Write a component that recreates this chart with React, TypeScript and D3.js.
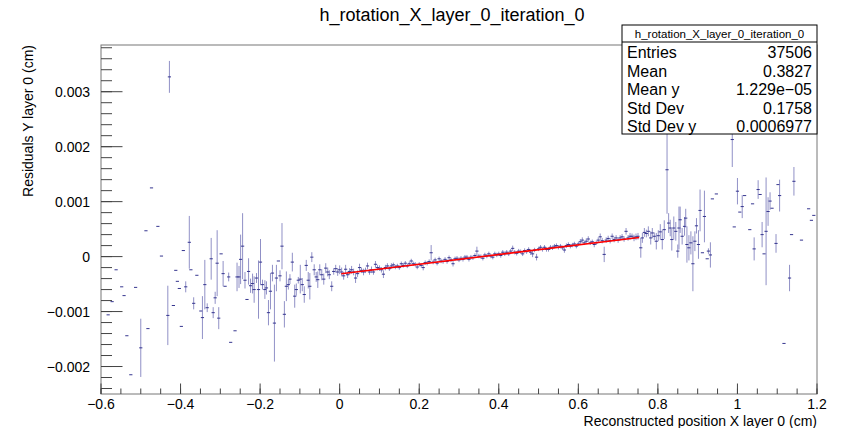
import React from "react";
import * as d3 from "d3";

// profile points: [x (cm), mean residual (1e-4 cm), error (1e-4 cm)]
const farLeft: [number, number, number][] = [
  [-0.582, -10.6, 0], [-0.572, -8.2, 0], [-0.562, -2.4, 0], [-0.548, -5.5, 0],
  [-0.542, -7.1, 0], [-0.535, -14.4, 0], [-0.525, -21.5, 0], [-0.513, -5.6, 0],
  [-0.5, -16.6, 5.3], [-0.487, 4.7, 0], [-0.482, -13.1, 0], [-0.473, 12.5, 0],
  [-0.457, 5.5, 0], [-0.448, 0.1, 0], [-0.432, -10.7, 5.4], [-0.428, 32.7, 2.9],
  [-0.418, -8.9, 0], [-0.412, -2.5, 0], [-0.408, -4.5, 0], [-0.403, -5.8, 0],
  [-0.398, -12.7, 0], [-0.393, 1.1, 0], [-0.387, -5.5, 1], [-0.378, 2.6, 4.8],
  [-0.374, -2.4, 0], [-0.367, -8.5, 1.1], [-0.359, -3.4, 0], [-0.349, -9.9, 0],
];

const leftBand: [number, number, number][] = [
  [-0.345, -11.1, 3.9], [-0.339, -5.1, 4.5], [-0.333, -9.3, 0.8], [-0.323, -0.4, 3.8],
  [-0.318, -10.2, 1], [-0.313, -7.5, 1.1], [-0.308, -1.2, 6], [-0.304, -11.2, 2],
  [-0.298, 0.5, 0], [-0.293, -3.1, 2.3], [-0.288, -5.4, 0], [-0.279, -3.7, 0.8],
  [-0.274, -15.6, 0], [-0.263, -13.5, 0], [-0.258, -3.7, 2.6], [-0.253, -3.7, 2],
  [-0.249, -0.5, 4.5], [-0.244, 1.9, 6], [-0.238, -4.3, 1.5], [-0.233, -7.8, 0],
  [-0.229, -2.7, 2.4], [-0.224, -5.3, 1.3], [-0.219, -4.9, 1.8], [-0.215, -6, 2.4],
  [-0.209, -3.9, 0.9], [-0.204, -6, 5.3], [-0.199, -1, 4.2], [-0.194, -5.1, 0.9],
  [-0.188, -6, 1.7], [-0.184, -5.7, 1.2], [-0.179, -10.2, 2.3], [-0.174, -6.3, 3.3],
  [-0.169, -3, 1.5], [-0.164, -12.1, 7], [-0.159, -3.9, 2.4], [-0.154, -0.8, 0],
  [-0.15, -3.5, 1], [-0.145, 1.9, 4.2], [-0.139, -10.5, 2.4], [-0.134, -5.4, 2.7],
  [-0.129, -5.1, 0.9], [-0.125, -4.1, 0.9], [-0.119, -1, 1.7], [-0.113, -7.2, 2.1],
  [-0.109, -6, 1.1], [-0.104, -4.3, 0.6], [-0.099, -4.1, 2.6], [-0.094, -5.1, 1.2],
  [-0.089, -6.9, 1.5], [-0.084, -1.6, 1], [-0.079, -4.3, 1.5], [-0.075, -5.4, 2.4],
  [-0.07, -0.1, 0.9], [-0.064, -2.4, 1], [-0.059, -3.7, 0.9], [-0.055, -4.2, 1.5],
  [-0.05, -2.4, 1], [-0.045, -3.3, 1], [-0.04, -4.1, 1], [-0.035, -2.1, 0.9],
  [-0.03, -2.8, 0.8], [-0.026, -3.3, 0.8], [-0.02, -5.4, 0.9], [-0.015, -2.7, 0.6],
  [-0.01, -2.2, 0.7], [-0.005, -2.8, 0.7], [0, -2.4, 0.8],
];

const fitBand: [number, number, number][] = [
  [0.005, -2.8, 0.8], [0.01, -3.5, 0.7], [0.015, -2.3, 0.8], [0.02, -3.3, 0.6],
  [0.025, -2.7, 0.6], [0.03, -2.4, 0.7], [0.035, -2.8, 0.6], [0.04, -3.9, 0.9],
  [0.045, -3.1, 0.6], [0.05, -2.0, 0.7], [0.055, -2.5, 0.5], [0.06, -2.8, 0.6],
  [0.065, -2.5, 0.5], [0.07, -1.7, 0.6], [0.075, -2.8, 0.5], [0.08, -2.4, 0.6],
  [0.085, -2.8, 0.5], [0.09, -1.4, 0.6], [0.095, -2.0, 0.5], [0.1, -2.1, 0.5],
  [0.105, -2.4, 0.5], [0.11, -3.2, 0.7], [0.115, -2.0, 0.5], [0.12, -1.7, 0.5],
  [0.125, -2.2, 0.4], [0.13, -1.7, 0.5], [0.135, -1.5, 0.4], [0.14, -1.9, 0.4],
  [0.145, -1.7, 0.4], [0.15, -2.0, 0.4], [0.155, -1.3, 0.4], [0.16, -1.6, 0.4],
  [0.165, -1.2, 0.4], [0.17, -1.7, 0.4], [0.175, -1.3, 0.4], [0.18, -0.8, 0.4],
  [0.185, -1.3, 0.4], [0.19, -1.4, 0.4], [0.195, -1.9, 0.4], [0.2, -1.4, 0.4],
  [0.205, -1.6, 0.4], [0.21, -2.0, 0.5], [0.215, -1.1, 0.4], [0.22, -1.2, 0.4],
  [0.225, -0.9, 0.4], [0.23, 0.7, 1.4], [0.235, -1.0, 0.4], [0.24, -0.6, 0.4],
  [0.245, -1.2, 0.4], [0.25, -0.4, 0.4], [0.255, -0.8, 0.4], [0.26, -0.9, 0.4],
  [0.265, -0.5, 0.4], [0.27, -0.9, 0.4], [0.275, -0.2, 0.4], [0.28, -0.6, 0.4],
  [0.285, -1.3, 0.5], [0.29, -0.4, 0.4], [0.295, -0.3, 0.4], [0.3, -0.6, 0.4],
  [0.305, -0.3, 0.4], [0.31, -0.5, 0.4], [0.315, -0.1, 0.4], [0.32, -0.1, 0.4],
  [0.325, -0.5, 0.4], [0.33, -0.1, 0.4], [0.335, -0.2, 0.4], [0.34, 0.2, 0.4],
  [0.345, 1.0, 0.8], [0.35, 0.1, 0.4], [0.355, 0.0, 0.4], [0.36, -0.3, 0.4],
  [0.365, 0.3, 0.4], [0.37, 0.1, 0.4], [0.375, 0.5, 0.4], [0.38, 0.1, 0.4],
  [0.385, -0.1, 0.4], [0.39, 0.5, 0.4], [0.395, 0.3, 0.4], [0.4, 0.5, 0.4],
  [0.405, 0.2, 0.4], [0.41, 0.8, 0.4], [0.415, 0.5, 0.4], [0.42, 0.8, 0.4],
  [0.425, 0.5, 0.4], [0.43, 1.0, 0.4], [0.435, 1.5, 0.5], [0.44, 0.8, 0.4],
  [0.445, 0.6, 0.4], [0.45, 1.0, 0.4], [0.455, 0.9, 0.4], [0.46, 0.5, 0.4],
  [0.465, 1.1, 0.4], [0.47, 0.9, 0.4], [0.475, 1.3, 0.4], [0.48, 0.8, 0.5],
  [0.485, 0.5, 0.6], [0.49, 1.2, 0.4], [0.495, -0.1, 0.6], [0.5, 1.4, 0.4],
  [0.505, 1.7, 0.4], [0.51, 1.3, 0.4], [0.515, 1.7, 0.4], [0.52, 1.3, 0.4],
  [0.525, 1.3, 0.4], [0.53, 1.7, 0.4], [0.535, 1.6, 0.4], [0.54, 1.9, 0.4],
  [0.545, 2.0, 0.4], [0.55, 1.7, 0.4], [0.555, 1.9, 0.4], [0.56, 1.6, 0.4],
  [0.565, 1.2, 0.5], [0.57, 2.0, 0.4], [0.575, 2.2, 0.4], [0.58, 1.9, 0.4],
  [0.585, 2.1, 0.4], [0.59, 2.3, 0.4], [0.595, 1.9, 0.4], [0.6, 2.3, 0.4],
  [0.605, 2.7, 0.5], [0.61, 3.0, 0.5], [0.615, 2.5, 0.4], [0.62, 2.8, 0.5],
  [0.625, 3.2, 0.5], [0.63, 2.5, 0.4], [0.635, 2.7, 0.4], [0.64, 2.2, 0.5],
  [0.645, 2.5, 0.4], [0.65, 3.0, 0.5], [0.655, 3.6, 0.6], [0.66, 2.9, 0.5],
  [0.665, 0.4, 1.4], [0.67, 3.0, 0.5], [0.675, 3.3, 0.5], [0.68, 2.9, 0.5],
  [0.685, 3.7, 0.5], [0.69, 3.1, 0.5], [0.695, 3.4, 0.5], [0.7, 3.0, 0.5],
  [0.705, 3.4, 0.5], [0.71, 3.6, 0.5], [0.715, 3.2, 0.5], [0.72, 4.6, 0.6],
  [0.725, 3.4, 0.5], [0.73, 3.7, 0.6], [0.735, 3.7, 0.5], [0.74, 3.4, 0.6],
  [0.745, 3.6, 0.6], [0.75, 3.7, 0.6],
];

const farRight: [number, number, number][] = [
  [0.757, 1.6, 1.8], [0.761, 3.4, 0.9], [0.766, 4.4, 0.8], [0.771, 4.2, 0.7],
  [0.776, 4.6, 0.9], [0.782, 3.4, 1.2], [0.786, 4.3, 0.9], [0.791, 3.7, 0.7],
  [0.796, 2.8, 1.5], [0.801, 3.8, 1], [0.806, 4.5, 1.4], [0.811, 3.1, 1.8],
  [0.816, 4.9, 1.7], [0.823, 15.8, 8], [0.827, 6.1, 1.8], [0.831, 5.2, 1.5],
  [0.835, 3.1, 2], [0.84, 5.2, 2.1], [0.845, 4.6, 1.7], [0.85, 1, 1.2],
  [0.853, 5.2, 3.9], [0.856, 6.7, 2.4], [0.861, 3.7, 1.5], [0.867, 5.5, 1.7],
  [0.87, 7, 1.7], [0.873, 2.2, 3.3], [0.878, 1.6, 2.3], [0.883, 2.5, 2.1],
  [0.888, -1.3, 5], [0.893, 2.8, 1.8], [0.897, 5.6, 1.4], [0.902, 2.2, 2.6],
  [0.906, 8.4, 3.8], [0.912, 0.7, 0], [0.917, 7.3, 4.7], [0.924, -0.4, 0],
  [0.927, 1, 0.5], [0.932, 0.3, 2.3], [0.937, 10.5, 0], [0.947, 11.4, 0],
  [0.987, 21.3, 5], [0.992, 5.4, 0], [1.0, 11.9, 2.4], [1.006, 8.1, 0],
  [1.012, 9.1, 2.1], [1.018, 11.1, 0], [1.031, 4.9, 0], [1.038, 9.6, 0],
  [1.042, 1.4, 2.1], [1.052, 12.2, 1.7], [1.057, 11.3, 0], [1.062, 4, 2.3],
  [1.067, 0.5, 0], [1.072, 4.6, 9.8], [1.077, 8.2, 2.6], [1.082, 10.1, 1.6],
  [1.087, 8.8, 0], [1.097, 2.4, 1.7], [1.102, 13.1, 0], [1.106, 11.1, 2.9],
  [1.117, -15.8, 0], [1.131, -3.9, 2.4], [1.136, 4, 0], [1.142, 13.7, 2.6],
  [1.161, 3, 0], [1.179, 8.7, 0], [1.186, 6.6, 0], [1.192, 7.5, 0],
];

// linear fit drawn over [0, 0.753]
const fitX = [0.004, 0.753];
const fitY = [-3.11, 3.48];

const xTicks = [-0.6, -0.4, -0.2, 0, 0.2, 0.4, 0.6, 0.8, 1, 1.2];
const yTicks = [-0.002, -0.001, 0, 0.001, 0.002, 0.003];

const statsTitle = "h_rotation_X_layer_0_iteration_0";
const statsLabels = ["Entries", "Mean", "Mean y", "Std Dev", "Std Dev y"];
const statsValues = ["37506", "0.3827", "1.229e\u221205", "0.1758", "0.0006977"];

const W = 842;
const H = 428;
const frame = { left: 101, right: 817, top: 45, bottom: 394 };
const font = "'Liberation Sans', Arial, Helvetica, sans-serif";

export default function App() {
  const x = d3.scaleLinear().domain([-0.6, 1.2]).range([frame.left, frame.right]);
  const y = d3.scaleLinear().domain([-0.0025, 0.00385]).range([frame.bottom, frame.top]);

  const points = [...farLeft, ...leftBand, ...fitBand, ...farRight];
  const xMinor = d3.range(-0.6, 1.2001, 0.05);
  const yMinor = d3.range(-0.0024, 0.00381, 0.0002);
  const fmt = d3.format("~g");

  const fitPath = d3.line<number>()
    .x((_, i) => x(fitX[i]))
    .y((d) => y(d * 1e-4))(fitY);

  const box = { x0: 622, x1: 817, y0: 25, y1: 134, head: 42 };
  const rowY = d3.scaleLinear().domain([0, 4]).range([58, 132]);

  return (
    <div>
      <style>{`body{margin:0}`}</style>
      <svg width={W} height={H} style={{ display: "block", background: "#fff" }} fontFamily={font}>
        <text x={452} y={21} textAnchor="middle" fontSize={18} fill="#000">
          h_rotation_X_layer_0_iteration_0
        </text>

        {/* frame */}
        <rect x={frame.left} y={frame.top} width={frame.right - frame.left}
          height={frame.bottom - frame.top} fill="none" stroke="#777" strokeWidth={1} />

        {/* ticks */}
        <g stroke="#444" strokeWidth={1}>
          {xMinor.map((v, i) => (
            <line key={"xm" + i} x1={x(v)} x2={x(v)} y1={frame.bottom} y2={frame.bottom - 5.5} />
          ))}
          {xTicks.map((v) => (
            <line key={"xM" + v} x1={x(v)} x2={x(v)} y1={frame.bottom} y2={frame.bottom - 10.5} />
          ))}
          {yMinor.map((v, i) => (
            <line key={"ym" + i} x1={frame.left} x2={frame.left + 11} y1={y(v)} y2={y(v)} />
          ))}
          {yTicks.map((v) => (
            <line key={"yM" + v} x1={frame.left} x2={frame.left + 21.5} y1={y(v)} y2={y(v)} />
          ))}
        </g>
        <g fontSize={14} fill="#000">
          {xTicks.map((v) => (
            <text key={"xl" + v} x={x(v)} y={409} textAnchor="middle">{fmt(v)}</text>
          ))}
          {yTicks.map((v) => (
            <text key={"yl" + v} x={90} y={y(v) + 5} textAnchor="end">{fmt(v)}</text>
          ))}
        </g>
        <text x={frame.right} y={426} textAnchor="end" fontSize={14} fill="#000">
          Reconstructed position X layer 0 (cm)
        </text>
        <text transform={`translate(33, ${frame.top}) rotate(-90)`} textAnchor="end" fontSize={14} fill="#000">
          Residuals Y layer 0 (cm)
        </text>

        {/* profile points */}
        <g>
          {points.map(([px, py, pe], i) => {
            const cx = x(px);
            const cy = y(py * 1e-4);
            return (
              <g key={"p" + i}>
                {pe > 0 && (
                  <line x1={cx} x2={cx} y1={y((py + pe) * 1e-4)} y2={y((py - pe) * 1e-4)}
                    stroke="#6b6bb3" strokeOpacity={0.75} strokeWidth={1} />
                )}
                <line x1={cx - 1.6} x2={cx + 1.6} y1={cy} y2={cy} stroke="#35358f" strokeWidth={1} />
              </g>
            );
          })}
        </g>

        <path d={fitPath ?? ""} fill="none" stroke="#ff0000" strokeWidth={1.6} />

        {/* stats box */}
        <rect x={box.x0} y={box.y0} width={box.x1 - box.x0} height={box.y1 - box.y0}
          fill="#fff" stroke="#000" strokeWidth={1} />
        <line x1={box.x0} x2={box.x1} y1={box.head} y2={box.head} stroke="#000" strokeWidth={1} />
        <text x={(box.x0 + box.x1) / 2} y={38} textAnchor="middle" fontSize={11.5} fill="#000">
          {statsTitle}
        </text>
        {statsLabels.map((lab, i) => (
          <g key={lab} fontSize={16} fill="#000">
            <text x={box.x0 + 5} y={rowY(i)}>{lab}</text>
            <text x={box.x1 - 5} y={rowY(i)} textAnchor="end">{statsValues[i]}</text>
          </g>
        ))}
      </svg>
    </div>
  );
}
